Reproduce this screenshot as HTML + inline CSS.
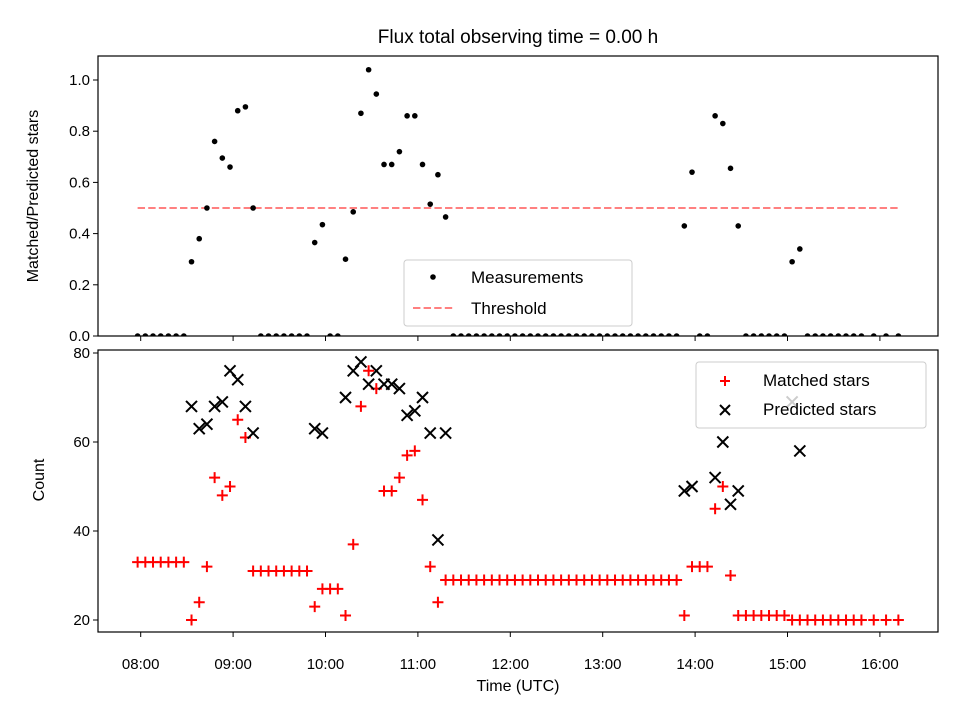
<!DOCTYPE html>
<html><head><meta charset="utf-8"><style>
html,body{margin:0;padding:0;background:#fff;}
svg{display:block;font-family:"Liberation Sans","DejaVu Sans",sans-serif;}
</style></head><body>
<svg id="chart" width="960" height="720" viewBox="0 0 960 720" xmlns="http://www.w3.org/2000/svg">
<rect width="960" height="720" fill="#fff"/>
<text x="518" y="43" font-size="19" text-anchor="middle">Flux total observing time = 0.00 h</text>
<g id="topPanel"></g>
<g id="botPanel"></g>
<text x="0" y="0" font-size="16" text-anchor="middle" transform="translate(38,196) rotate(-90)">Matched/Predicted stars</text>
<text x="0" y="0" font-size="16" text-anchor="middle" transform="translate(44,480) rotate(-90)">Count</text>
<text x="518" y="691" font-size="16" text-anchor="middle">Time (UTC)</text>
</svg>
<script>
// minutes since 08:00
const times = [-2,3,8,13,18,23,28,
33,38,43,48,53,58,63,68,73,
78,83,88,93,98,103,108,
113,118,123,128,
133,138,143,148,153,158,163,168,173,178,183,188,193,198,
203,208,213,218,223,228,233,238,243,248,253,258,263,268,273,278,283,288,293,298,303,308,313,318,323,328,333,338,343,348,
353,358,363,368,373,378,383,388,
393,398,403,408,413,418,423,428,
433,438,443,448,453,458,463,468,
476,484,492];
const matched = [33,33,33,33,33,33,33,
20,24,32,52,48,50,65,61,31,
31,31,31,31,31,31,31,
23,27,27,27,
21,37,68,76,72,49,49,52,57,58,47,32,24,29,
29,29,29,29,29,29,29,29,29,29,29,29,29,29,29,29,29,29,29,29,29,29,29,29,29,29,29,29,29,29,
21,32,32,32,45,50,30,21,
21,21,21,21,21,21,20,20,
20,20,20,20,20,20,20,20,
20,20,20];
const predicted = [null,null,null,null,null,null,null,
68,63,64,68,69,76,74,68,62,
null,null,null,null,null,null,null,
63,62,null,null,
70,76,78,73,76,73,73,72,66,67,70,62,38,62,
null,null,null,null,null,null,null,null,null,null,null,null,null,null,null,null,null,null,null,null,null,null,null,null,null,null,null,null,null,null,
49,50,null,null,52,60,46,49,
null,null,null,null,null,null,69,58,
null,null,null,null,null,null,null,null,
null,null,null];
const ratio = [0,0,0,0,0,0,0,
0.29,0.38,0.50,0.76,0.695,0.66,0.88,0.895,0.50,
0,0,0,0,0,0,0,
0.365,0.435,0,0,
0.30,0.485,0.87,1.04,0.945,0.67,0.67,0.72,0.86,0.86,0.67,0.515,0.63,0.465,
0,0,0,0,0,0,0,0,0,0,0,0,0,0,0,0,0,0,0,0,0,0,0,0,0,0,0,0,0,0,
0.43,0.64,0,0,0.86,0.83,0.655,0.43,
0,0,0,0,0,0,0.29,0.34,
0,0,0,0,0,0,0,0,
0,0,0];
const threshold = 0.5;
const xTickLabels = ["08:00","09:00","10:00","11:00","12:00","13:00","14:00","15:00","16:00"];
const xTickMinutes = [0,60,120,180,240,300,360,420,480];
const topTicks = [0,0.2,0.4,0.6,0.8,1.0];
const botTicks = [20,40,60,80];

const NS="http://www.w3.org/2000/svg";
const L=98,R=938,T1=56,B1=336,T2=350,B2=632;
const xs=m=>140.7+m*1.54;
const yTop=v=>336-v*256;
const yBot=v=>620-(v-20)*4.45;
function mk(tag,attrs,parent){const e=document.createElementNS(NS,tag);for(const k in attrs)e.setAttribute(k,attrs[k]);parent.appendChild(e);return e;}
const topG=document.getElementById('topPanel'), botG=document.getElementById('botPanel');

const defs=mk('defs',{},document.getElementById('chart'));
const c1=mk('clipPath',{id:'c1'},defs);mk('rect',{x:L,y:T1,width:R-L,height:B1-T1},c1);
const c2=mk('clipPath',{id:'c2'},defs);mk('rect',{x:L,y:T2,width:R-L,height:B2-T2},c2);

const th=mk('line',{x1:xs(times[0]),x2:xs(times[times.length-1]),y1:yTop(threshold),y2:yTop(threshold),stroke:'#ff8080','stroke-width':2,'stroke-dasharray':'7.4 3.2'},topG);


const tg=mk('g',{'clip-path':'url(#c1)'},topG);
ratio.forEach((v,i)=>{
  const c=mk('circle',{cx:xs(times[i]),cy:yTop(v),r:2.8,fill:'#000'},tg);
  
  
});
const bg=mk('g',{'clip-path':'url(#c2)'},botG);
matched.forEach((v,i)=>{
  const x=xs(times[i]),y=yBot(v);
  const p=mk('path',{d:`M${x-5.5} ${y}H${x+5.5}M${x} ${y-5.5}V${y+5.5}`,stroke:'#ff0000','stroke-width':2,fill:'none'},bg);
  
  
});
predicted.forEach((v,i)=>{
  if(v===null)return;
  const x=xs(times[i]),y=yBot(v);
  const p=mk('path',{d:`M${x-5.5} ${y-5.5}L${x+5.5} ${y+5.5}M${x-5.5} ${y+5.5}L${x+5.5} ${y-5.5}`,stroke:'#000','stroke-width':2,fill:'none'},bg);
  
  
});
mk('rect',{x:L,y:T1,width:R-L,height:B1-T1,fill:'none',stroke:'#000','stroke-width':1.2},topG);
mk('rect',{x:L,y:T2,width:R-L,height:B2-T2,fill:'none',stroke:'#000','stroke-width':1.2},botG);
xTickMinutes.forEach((m,i)=>{
  const x=xs(m);
  mk('line',{x1:x,x2:x,y1:B1,y2:B1+5,stroke:'#000','stroke-width':1},topG);
  mk('line',{x1:x,x2:x,y1:B2,y2:B2+5,stroke:'#000','stroke-width':1},botG);
  const t=mk('text',{x:x,y:B2+37,'font-size':15,'text-anchor':'middle'},botG);
  t.textContent=xTickLabels[i];
  
  
});
topTicks.forEach(v=>{
  const y=yTop(v);
  mk('line',{x1:L-5,x2:L,y1:y,y2:y,stroke:'#000'},topG);
  const t=mk('text',{x:L-8,y:y+5,'font-size':15,'text-anchor':'end'},topG);
  t.textContent=v.toFixed(1);
  
  
});
botTicks.forEach(v=>{
  const y=yBot(v);
  mk('line',{x1:L-5,x2:L,y1:y,y2:y,stroke:'#000'},botG);
  const t=mk('text',{x:L-8,y:y+5,'font-size':15,'text-anchor':'end'},botG);
  t.textContent=String(v);
  
  
});
const lg1=mk('g',{},topG);


mk('rect',{x:404,y:260,width:228,height:66,rx:3,fill:'#fff','fill-opacity':0.8,stroke:'#ccc'},lg1);
mk('circle',{cx:433,cy:277,r:2.8,fill:'#000'},lg1);
let tx=mk('text',{x:471,y:283,'font-size':17},lg1);tx.textContent='Measurements';
mk('line',{x1:413,x2:453,y1:308,y2:308,stroke:'#ff8080','stroke-width':2,'stroke-dasharray':'7.4 3.2'},lg1);
tx=mk('text',{x:471,y:314,'font-size':17},lg1);tx.textContent='Threshold';
const lg2=mk('g',{},botG);


mk('rect',{x:696,y:362,width:230,height:66,rx:3,fill:'#fff','fill-opacity':0.8,stroke:'#ccc'},lg2);
mk('path',{d:'M720 381H730M725 376V386',stroke:'#ff0000','stroke-width':2},lg2);
tx=mk('text',{x:763,y:386,'font-size':17},lg2);tx.textContent='Matched stars';
mk('path',{d:'M720 405L730 415M720 415L730 405',stroke:'#000','stroke-width':2},lg2);
tx=mk('text',{x:763,y:415,'font-size':17},lg2);tx.textContent='Predicted stars';
</script>
</body></html>
